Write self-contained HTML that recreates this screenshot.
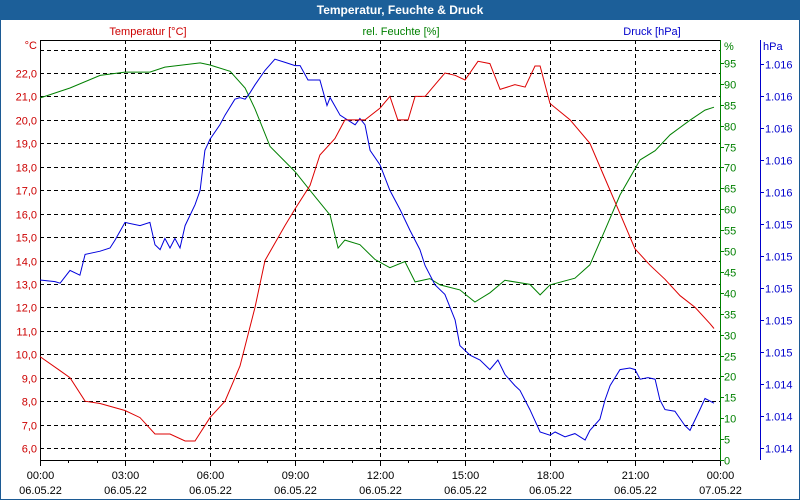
<!DOCTYPE html>
<html><head><meta charset="utf-8"><style>
html,body{margin:0;padding:0;background:#fff}
svg{display:block;font-family:"Liberation Sans",sans-serif}
</style></head><body>
<svg id="chart" width="800" height="500" viewBox="0 0 800 500">
<rect x="0.5" y="0.5" width="799" height="499" fill="#fff" stroke="#1c5a94"/>
<rect x="0" y="0" width="800" height="20" fill="#1c5f99"/>
<text x="400" y="14" text-anchor="middle" fill="#fff" font-weight="bold" font-size="12">Temperatur, Feuchte &amp; Druck</text>
<text x="148" y="35" text-anchor="middle" fill="#cc0000" font-size="11">Temperatur [°C]</text>
<text x="401" y="35" text-anchor="middle" fill="#008000" font-size="11">rel. Feuchte [%]</text>
<text x="652" y="35" text-anchor="middle" fill="#0000cc" font-size="11">Druck [hPa]</text>
<g id="grid"></g><g id="axes"></g><g id="series"></g>
</svg>
<script>
const tempHours=[0,.71,1.06,1.59,2.12,3,3.53,4.06,4.59,5.12,5.47,6,6.53,7.06,7.59,7.94,8.65,9,9.53,9.88,10.41,10.76,11.47,12,12.35,12.63,12.99,13.24,13.59,13.94,14.29,14.65,15,15.46,15.88,16.24,16.76,17.12,17.47,17.65,18,18.71,19.41,19.94,20.47,21,21.53,22.06,22.59,23.12,23.65,23.79];
const tempValues=[9.9,9.3,9.0,8.0,7.9,7.6,7.3,6.6,6.6,6.3,6.3,7.3,8.0,9.5,12,14,15.5,16.2,17.2,18.5,19.2,20,20,20.5,21,20,20,21,21,21.5,22,21.9,21.7,22.5,22.4,21.3,21.5,21.4,22.3,22.3,20.7,20.0,19.0,17.5,16,14.5,13.8,13.2,12.5,12.0,11.3,11.1];
const humHours=[0,1.06,2.12,3,3.88,4.41,5.65,6,6.71,7.24,7.59,8.12,9,9.71,10.24,10.52,10.76,11.29,11.82,12.35,12.88,13.24,13.76,14.12,14.82,15.35,15.88,16.41,17.29,17.65,18,18.88,19.41,19.94,20.47,21.18,21.71,22.24,22.94,23.47,23.79];
const humValues=[86.6,89,92,92.8,92.8,94,95,94.5,93,89,84,75,69,63,58.6,50.7,52.6,51.5,48,46,47.5,42.6,43.4,41.9,40.7,37.8,40,43,42,39.5,41.9,43.5,46.7,55,63.4,71.8,74,77.8,81.3,83.7,84.4];
const presHours=[0,.53,.71,1.06,1.41,1.59,2.12,2.47,2.65,3,3.53,3.88,4.06,4.24,4.41,4.59,4.76,4.94,5.12,5.47,5.65,5.82,6,6.35,6.53,6.88,7.06,7.24,7.41,7.59,7.94,8.29,8.65,9,9.18,9.46,9.88,10.13,10.24,10.59,11.12,11.29,11.47,11.65,12,12.35,12.71,13.06,13.41,13.59,13.94,14.29,14.65,14.82,15.18,15.53,15.88,16.16,16.41,16.76,16.94,17.29,17.65,18,18.18,18.53,18.88,19.24,19.41,19.76,19.94,20.12,20.47,20.82,21,21.18,21.46,21.71,21.88,22.06,22.41,22.76,22.94,23.29,23.47,23.79];
const presValues=[1015.05,1015.04,1015.03,1015.11,1015.08,1015.21,1015.23,1015.25,1015.30,1015.41,1015.39,1015.41,1015.27,1015.24,1015.31,1015.25,1015.31,1015.25,1015.39,1015.52,1015.61,1015.86,1015.93,1016.02,1016.08,1016.18,1016.19,1016.18,1016.22,1016.27,1016.36,1016.43,1016.41,1016.39,1016.39,1016.30,1016.30,1016.14,1016.19,1016.08,1016.02,1016.06,1016.02,1015.86,1015.77,1015.61,1015.49,1015.36,1015.24,1015.14,1015.02,1014.96,1014.80,1014.64,1014.58,1014.55,1014.49,1014.55,1014.46,1014.39,1014.36,1014.24,1014.10,1014.08,1014.10,1014.07,1014.09,1014.05,1014.11,1014.18,1014.30,1014.39,1014.49,1014.50,1014.49,1014.43,1014.44,1014.43,1014.30,1014.24,1014.23,1014.14,1014.11,1014.24,1014.31,1014.28];
const tempTicks=[6,7,8,9,10,11,12,13,14,15,16,17,18,19,20,21,22,23];
const humTicks=[0,5,10,15,20,25,30,35,40,45,50,55,60,65,70,75,80,85,90,95];
const presTicks=[1014.0,1014.2,1014.4,1014.6,1014.8,1015.0,1015.2,1015.4,1015.6,1015.8,1016.0,1016.2,1016.4];
const timeTicks=[0,3,6,9,12,15,18,21,24];
const timeTime=["00:00","03:00","06:00","09:00","12:00","15:00","18:00","21:00","00:00"];
const timeDate=["06.05.22","06.05.22","06.05.22","06.05.22","06.05.22","06.05.22","06.05.22","06.05.22","07.05.22"];

const L=40,R=720,T=40,B=460;
const xS=h=>L+h*(R-L)/24;
const yT=t=>73+(22-t)*23.44;
const yH=p=>B-p*4.18;
const yP=p=>448-160*(p-1014);
const NS="http://www.w3.org/2000/svg";
function mk(tag,attrs,parent,txt){const e=document.createElementNS(NS,tag);for(const k in attrs)e.setAttribute(k,attrs[k]);if(txt!==undefined)e.textContent=txt;parent.appendChild(e);return e;}
const grid=document.getElementById('grid'),axes=document.getElementById('axes'),ser=document.getElementById('series');

tempTicks.forEach(t=>{const y=Math.round(yT(t))+.5;
 const g=mk('line',{x1:L,x2:R,y1:y,y2:y,stroke:'#000','stroke-dasharray':'4,3'},grid);
 
 
 if(t<23){const lb=mk('text',{x:37,y:y+4,'text-anchor':'end','font-size':11,fill:'#cc0000'},axes,t.toFixed(1).replace('.',','));
 
 }
});
const cu=mk('text',{x:37,y:49,'text-anchor':'end','font-size':11,fill:'#cc0000'},axes,'°C');



timeTicks.forEach((h,i)=>{const x=Math.round(xS(h))+.5;
 if(i>0&&i<8){const g=mk('line',{x1:x,x2:x,y1:T,y2:B,stroke:'#000','stroke-dasharray':'4,3'},grid);
 
 }
 const a=mk('text',{x:x,y:479,'text-anchor':'middle','font-size':11,fill:'#000'},axes,timeTime[i]);
 
 
 const b=mk('text',{x:x,y:494,'text-anchor':'middle','font-size':11,fill:'#000'},axes,timeDate[i]);
 
 
});
for(let h=0;h<=24;h++){const x=Math.round(xS(h))+.5;
 const tk=mk('line',{x1:x,x2:x,y1:B,y2:B+(h%3==0?6:3),stroke:'#000'},axes);
 
 }

humTicks.forEach(p=>{const y=Math.round(yH(p))+.5;
 const tk=mk('line',{x1:R,x2:R+4,y1:y,y2:y,stroke:'#008000'},axes);
 
 
 const lb=mk('text',{x:724,y:y+4,'font-size':11,fill:'#008000'},axes,p);
 
 });
const hu=mk('text',{x:724,y:50,'font-size':11,fill:'#008000'},axes,'%');



presTicks.forEach(p=>{const y=Math.round(yP(p))+.5;
 const tk=mk('line',{x1:760,x2:764,y1:y,y2:y,stroke:'#0000cc'},axes);
 
 
 const lb=mk('text',{x:765,y:y+4,'font-size':11,fill:'#0000cc'},axes,(Math.round(p)/1000).toFixed(3));
 
 });
const pu=mk('text',{x:763,y:50,'font-size':11,fill:'#0000cc'},axes,'hPa');



const f=[['line',{x1:L+.5,x2:L+.5,y1:T,y2:B,stroke:'#000'},'y-axis-left'],['line',{x1:L,x2:R,y1:T+.5,y2:T+.5,stroke:'#000'},'plot-top'],['line',{x1:L,x2:R,y1:B+.5,y2:B+.5,stroke:'#000'},'x-axis'],['line',{x1:R+.5,x2:R+.5,y1:T,y2:B+1,stroke:'#008000'},'humidity-axis'],['line',{x1:760.5,x2:760.5,y1:40,y2:460,stroke:'#0000cc'},'pressure-axis']];
f.forEach(d=>{const e=mk(d[0],d[1],axes);
 
 });

function line(hs,vs,ys,col,name){const pts=hs.map((h,i)=>xS(h).toFixed(1)+','+ys(vs[i]).toFixed(1)).join(' ');
 const e=mk('polyline',{points:pts,fill:'none',stroke:col,'stroke-width':1},ser);
 
 }
line(humHours,humValues,yH,'#008000','humidity-line');
line(presHours,presValues,yP,'#0000dd','pressure-line');
line(tempHours,tempValues,yT,'#dd0000','temperature-line');
</script>
</body></html>
